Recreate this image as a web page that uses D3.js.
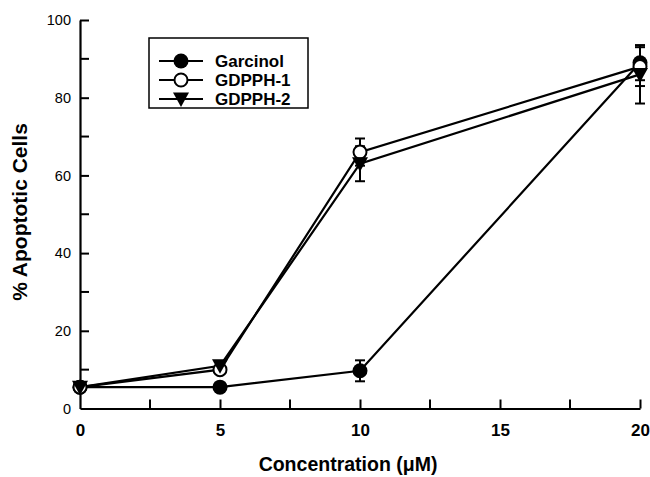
<!DOCTYPE html>
<html lang="en">
<head>
  <meta charset="UTF-8">
  <title>Apoptotic cells</title>
  <style>
    body { margin: 0; background: #ffffff; }
    #thesvg { width: 650px; height: 477px; display: block; }
    text { font-family: "Liberation Sans", Arial, sans-serif; fill: #000; }
  </style>
</head>
<body>
  <svg id="thesvg"></svg>
  <script src="https://d3js.org/d3.v7.min.js"></script>
  <script>

    var concentrations = [0, 5, 10, 20];
    var seriesNames = ["Garcinol", "GDPPH-1", "GDPPH-2"];
    var garcinol = [5.5, 5.5, 9.7, 89];
    var garcinolErr = [0, 0, 2.7, 4.5];
    var gdpph1 = [5.5, 10, 66, 88];
    var gdpph1Err = [0, 0, 3.5, 5];
    var gdpph2 = [5.5, 11, 63, 86];
    var gdpph2Err = [0, 0, 4.5, 7.5];
    var xTicks = [0, 5, 10, 15, 20];
    var xMinor = [2.5, 7.5, 12.5, 17.5];
    var yTicks = [0, 20, 40, 60, 80, 100];
    var yMinor = [10, 30, 50, 70, 90];

    var svg = d3.select("svg");
    var x = d3.scaleLinear().domain([0, 20]).range([80, 640]);
    var y = d3.scaleLinear().domain([0, 100]).range([408.5, 20]);

    var series = [
      { name: seriesNames[0], vals: garcinol, err: garcinolErr, shape: "filled" },
      { name: seriesNames[1], vals: gdpph1, err: gdpph1Err, shape: "open" },
      { name: seriesNames[2], vals: gdpph2, err: gdpph2Err, shape: "tri" }
    ];

    // axes, ticks inside
    var gx = svg.append("g").attr("transform", "translate(0," + y(0) + ")")
      .call(d3.axisBottom(x).tickValues(xTicks).tickSize(-9).tickSizeOuter(0).tickPadding(15).tickFormat(d3.format("d")));
    gx.selectAll(".tick")
      .filter(d => d == 0)
      .select("line").remove();
    gx.append("g").selectAll("line").data(xMinor).enter().append("line")
      .attr("x1", d => x(d)).attr("x2", d => x(d)).attr("y1", 0).attr("y2", -9);
    gx.selectAll("line").attr("stroke", "#000").attr("stroke-width", 2);
    gx.select(".domain").attr("stroke-width", 2.2);
    gx.selectAll("text").attr("font-size", 17).attr("font-weight", "bold")
      .attr("font-family", "'Liberation Sans', Arial, sans-serif").attr("fill", "#000");

    var gy = svg.append("g").attr("transform", "translate(" + x(0) + ",0)")
      .call(d3.axisLeft(y).tickValues(yTicks).tickSize(-9).tickSizeOuter(0).tickPadding(9));
    gy.selectAll(".tick").filter(d => d == 0).select("line").remove();
    gy.append("g").selectAll("line").data(yMinor).enter().append("line")
      .attr("y1", d => y(d)).attr("y2", d => y(d)).attr("x1", 0).attr("x2", 9);
    gy.selectAll("line").attr("stroke", "#000").attr("stroke-width", 2);
    gy.select(".domain").attr("stroke-width", 2.2);
    gy.selectAll("text").attr("font-size", 14.5)
      .attr("font-family", "'Liberation Sans', Arial, sans-serif").attr("fill", "#000");

    // titles
    svg.append("text").attr("x", 348).attr("y", 471).attr("text-anchor", "middle")
      .attr("font-size", 19.5).attr("font-weight", "bold").text("Concentration (\u03BCM)");
    svg.append("text").attr("transform", "translate(27,212) rotate(-90)").attr("text-anchor", "middle")
      .attr("font-size", 21).attr("font-weight", "bold").text("% Apoptotic Cells");

    var line = d3.line().x(d => x(d[0])).y(d => y(d[1]));

    function marker(g, shape) {
      if (shape == "tri") {
        g.append("path").attr("d", "M-8,-6.5L8,-6.5L0,8Z").attr("fill", "#000");
      } else {
        g.append("circle").attr("r", shape == "open" ? 6.5 : 7.5)
          .attr("fill", shape == "open" ? "#fff" : "#000")
          .attr("stroke", "#000").attr("stroke-width", shape == "open" ? 2 : 0);
      }
    }

    // error bars
    series.forEach(function(s) {
      var pts = concentrations.map((c, i) => [c, s.vals[i], s.err[i]]).filter(p => p[2] > 0);
      var eb = svg.append("g").selectAll("g").data(pts).enter().append("g");
      eb.append("line").attr("x1", d => x(d[0])).attr("x2", d => x(d[0]))
        .attr("y1", d => y(d[1] - d[2])).attr("y2", d => y(d[1] + d[2]))
        .attr("stroke", "#000").attr("stroke-width", 2);
      eb.selectAll(".cap").data(d => [[d[0], d[1] - d[2]], [d[0], d[1] + d[2]]]).enter().append("line")
        .attr("x1", d => x(d[0]) - 5).attr("x2", d => x(d[0]) + 5)
        .attr("y1", d => y(d[1])).attr("y2", d => y(d[1]))
        .attr("stroke", "#000").attr("stroke-width", 2);
    });

    // lines
    series.forEach(function(s) {
      svg.append("path")
        .datum(concentrations.map((c, i) => [c, s.vals[i]]))
        .attr("d", line).attr("fill", "none").attr("stroke", "#000").attr("stroke-width", 2.2);
    });

    // markers
    series.forEach(function(s) {
      svg.append("g").selectAll("g").data(concentrations.map((c, i) => [c, s.vals[i]])).enter()
        .append("g").attr("transform", d => "translate(" + x(d[0]) + "," + y(d[1]) + ")")
        .each(function() { marker(d3.select(this), s.shape); });
    });

    // legend
    var lg = svg.append("g");
    lg.append("rect").attr("x", 149).attr("y", 38).attr("width", 159).attr("height", 70)
      .attr("fill", "#fff").attr("stroke", "#000").attr("stroke-width", 1.5);
    series.forEach(function(s, i) {
      var ly = 61 + i * 19;
      lg.append("line").attr("x1", 159).attr("x2", 203).attr("y1", ly).attr("y2", ly)
        .attr("stroke", "#000").attr("stroke-width", 2);
      marker(lg.append("g").attr("transform", "translate(181," + ly + ")"), s.shape);
      lg.append("text").attr("x", 215).attr("y", ly + 6).attr("font-size", 17)
        .attr("font-weight", "bold").text(s.name);
    });
  </script>
</body>
</html>
